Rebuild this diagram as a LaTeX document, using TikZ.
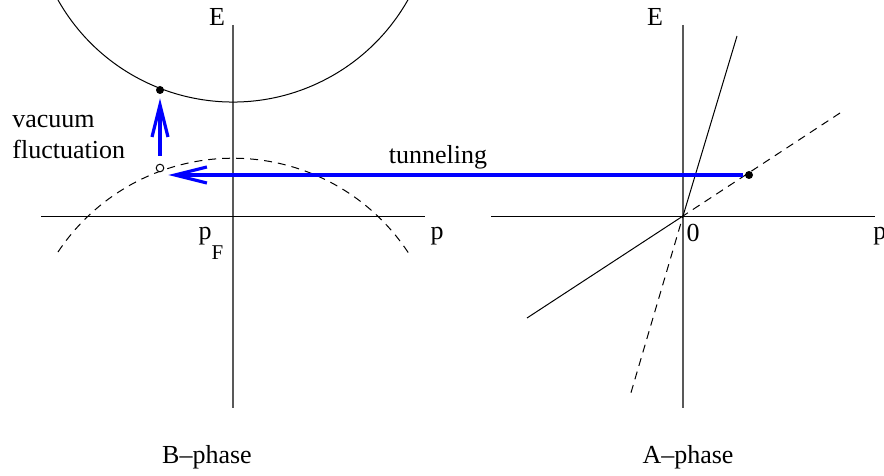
\documentclass[tikz,border=0pt]{standalone}
\usepackage{fontspec}
\setmainfont{Liberation Serif}
\usetikzlibrary{arrows.meta}

\begin{document}
\begin{tikzpicture}[x=0.5pt, y=-0.5pt,
    band/.style = {draw, line width=0.5pt},
    ghost/.style = {band, dash pattern=on 4pt off 3pt},
    eaxis/.style = {draw=black!65, line width=0.9pt},
    jump/.style = {draw=blue, line width=1.6pt, -{Straight Barb[length=16pt, width=8pt, line width=1.6pt]}},
    lbl/.style = {font=\fontsize{13}{16}\selectfont, inner sep=0pt},
    full/.style = {circle, fill, inner sep=0pt, minimum size=4pt},
    hole/.style = {circle, draw, line width=0.5pt, fill=white, inner sep=0pt, minimum size=3.8pt}]

    \useasboundingbox (0,0) rectangle (884,476);

    % B-phase
    \coordinate (borig) at (233,216);
    \draw[eaxis] (233,25) -- (233,408);
    \draw[band] (41,216) -- (425,216);
    \draw[band] (58,0) arc[start angle=150.5, end angle=29.5, radius=201];
    \draw[ghost] (58,252) arc[start angle=213.6, end angle=328, radius=210];

    \node[lbl] (be) at (217,17) {E};
    \node[lbl, anchor=base] (bp) at (437,240) {p};
    \node[lbl, anchor=base] (pf) at (211,240) {p\raisebox{-9.5pt}{\fontsize{10.5}{12}\selectfont F}};
    \node[lbl, anchor=base west] (vac) at (12,127) {vacuum};
    \node[lbl, anchor=base west] (fluc) at (12,159) {fluctuation};
    \node[lbl, anchor=base] (bphase) at (207,463) {B–phase};

    \node[full] (elec) at (160,90) {};
    \node[hole] (hole) at (160,168) {};

    % A-phase
    \coordinate (aorig) at (683,216);
    \draw[eaxis] (683,25) -- (683,408);
    \draw[band] (491,216) -- (875,216);
    \draw[band] (737,36) -- (aorig) -- (527,318);
    \draw[ghost] (840,113) -- (aorig) -- (630,396);

    \node[lbl] (ae) at (655,17) {E};
    \node[lbl, anchor=base west] (ap) at (873,240) {p};
    \node[lbl, anchor=base] (zero) at (693,242) {0};
    \node[lbl, anchor=base] (aphase) at (688,463) {A–phase};

    \node[full] (adot) at (749,175) {};

    % transitions
    \draw[jump, shorten <=4pt, shorten >=2pt] (hole) -- (elec);
    \draw[jump, shorten <=1pt, shorten >=2pt] (adot) -- (hole.east |- adot);
    \node[lbl, anchor=base] (tun) at (438,163) {tunneling};

\end{tikzpicture}
\end{document}
